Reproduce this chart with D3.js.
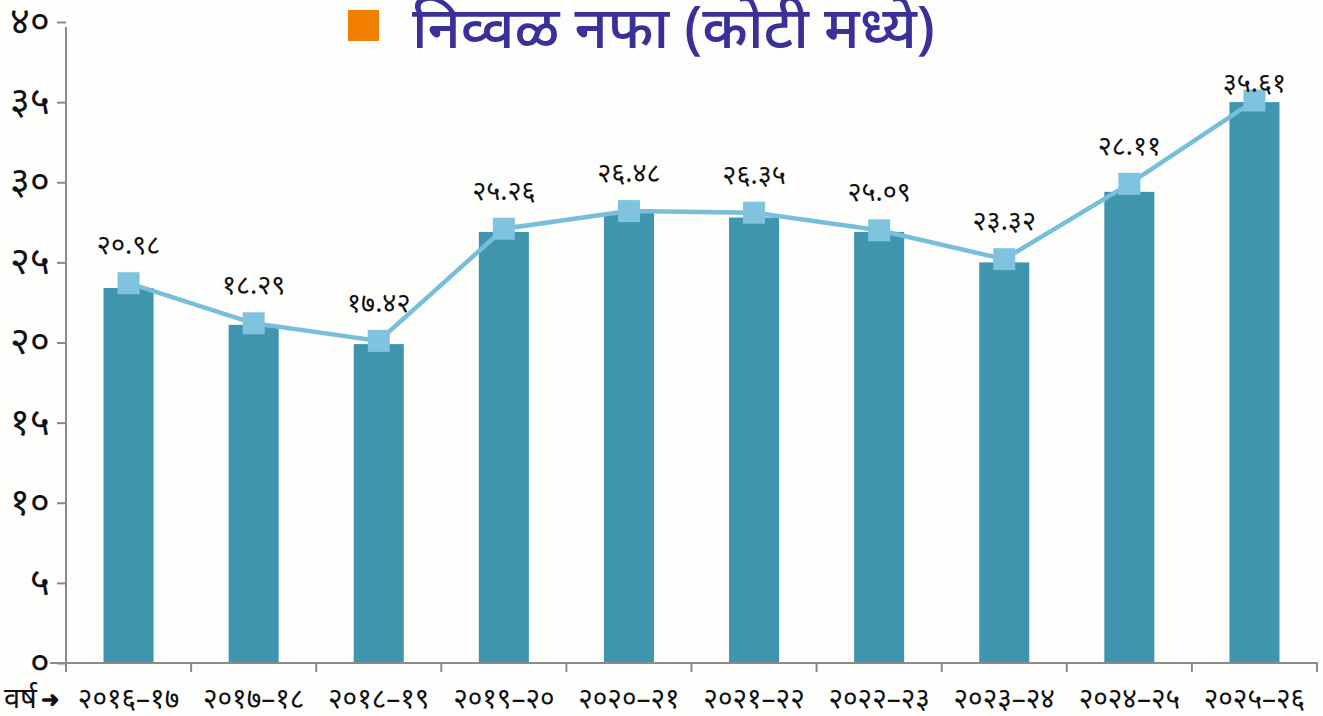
<!DOCTYPE html>
<html>
<head>
<meta charset="utf-8">
<script src="https://cdn.jsdelivr.net/npm/d3@7"></script>
<style>
  body { margin: 0; background: #fdfdfc; }
  svg { display: block; font-family: "Noto Sans", "Lato", sans-serif; }
</style>
</head>
<body>
<svg id="chart" width="1323" height="716"></svg>
<script>
// values
const years = ["2016-17", "2017-18", "2018-19", "2019-20", "2020-21",
               "2021-22", "2022-23", "2023-24", "2024-25", "2025-26"];
const barValues  = [23.4, 21.1, 19.9, 26.9, 28.1, 27.8, 26.9, 25.0, 29.4, 35.0];
const lineValues = [23.7, 21.2, 20.1, 27.1, 28.2, 28.1, 27.0, 25.2, 29.9, 35.1];
const labelValues = [20.98, 18.29, 17.42, 25.26, 26.48, 26.35, 25.09, 23.32, 28.11, 35.61];
const yTicks = [0, 5, 10, 15, 20, 25, 30, 35, 40];
const title = "निव्वळ नफा (कोटी मध्ये)";

// convert western digits to Devanagari
const deva = s => String(s).replace(/[0-9]/g, d => "०१२३४५६७८९"[d]);

const svg = d3.select("#chart");

const x = d3.scaleBand()
    .domain(years)
    .range([66, 1317])
    .paddingInner(0.6)
    .paddingOuter(0.3);

const y = d3.scaleLinear()
    .domain([0, 40])
    .range([663, 22]);

// bars
svg.append("g")
  .selectAll("rect")
  .data(barValues)
  .join("rect")
    .attr("x", (d, i) => x(years[i]))
    .attr("y", d => y(d))
    .attr("width", x.bandwidth())
    .attr("height", d => y(0) - y(d))
    .attr("fill", "#3f95ae");

// y axis
const yAxis = svg.append("g")
    .attr("transform", "translate(66,0)")
    .call(d3.axisLeft(y).tickValues(yTicks).tickSize(9).tickFormat(deva));
yAxis.select(".domain").attr("stroke", "#8a8a8a").attr("stroke-width", 2)
    .attr("d", `M-9,${y(0)}H0V27`);
yAxis.selectAll(".tick line").attr("stroke", "#8a8a8a").attr("stroke-width", 2);
yAxis.selectAll(".tick text")
    .attr("x", -16)
    .attr("dy", "0.3em")
    .attr("fill", "#111")
    .style("font-size", "38px");

// x axis: ticks between bands
const xAxis = svg.append("g").attr("transform", `translate(0,${y(0)})`);
xAxis.append("line")
    .attr("x1", 50).attr("x2", 1318)
    .attr("stroke", "#8a8a8a").attr("stroke-width", 2);
xAxis.selectAll(".xt")
  .data(d3.range(years.length + 1))
  .join("line")
    .attr("class", "xt")
    .attr("x1", i => 66 + i * (1251 / years.length))
    .attr("x2", i => 66 + i * (1251 / years.length))
    .attr("y1", 0).attr("y2", 9)
    .attr("stroke", "#8a8a8a").attr("stroke-width", 2);
xAxis.selectAll(".xl")
  .data(years)
  .join("text")
    .attr("class", "xl")
    .attr("x", d => x(d) + x.bandwidth() / 2)
    .attr("y", 45)
    .attr("text-anchor", "middle")
    .attr("fill", "#111")
    .style("font-size", "28px")
    .text(d => deva(d.replace("-", "–")));

svg.append("text")
    .attr("x", 4).attr("y", 708)
    .attr("fill", "#111")
    .style("font-size", "29px")
    .text("वर्ष");
svg.append("text")
    .attr("x", 41).attr("y", 707)
    .attr("fill", "#111")
    .style("font-size", "22px")
    .style("font-weight", "bold")
    .text("➜");

// line with square markers
const cx = i => x(years[i]) + x.bandwidth() / 2;
const line = d3.line()
    .x((d, i) => cx(i))
    .y(d => y(d));

svg.append("path")
    .datum(lineValues)
    .attr("fill", "none")
    .attr("stroke", "#78bedb")
    .attr("stroke-width", 4.5)
    .attr("d", line);

svg.append("g")
  .selectAll("rect")
  .data(lineValues)
  .join("rect")
    .attr("x", (d, i) => cx(i) - 11)
    .attr("y", d => y(d) - 11)
    .attr("width", 22)
    .attr("height", 22)
    .attr("fill", "#80c3de");

// value labels
svg.append("g")
  .selectAll("text")
  .data(labelValues)
  .join("text")
    .attr("x", (d, i) => cx(i))
    .attr("y", (d, i) => Math.max(y(lineValues[i]) - 29, 92))
    .attr("text-anchor", "middle")
    .attr("fill", "#111")
    .style("font-size", "27px")
    .text(d => deva(d.toFixed(2)));

// title with orange key
svg.append("rect")
    .attr("x", 348).attr("y", 10)
    .attr("width", 31).attr("height", 31)
    .attr("fill", "#f28000");
svg.append("text")
    .attr("x", 412).attr("y", 48)
    .attr("fill", "#3b2f98")
    .style("font-size", "58px")
    .style("font-weight", "500")
    .text(title);
</script>
</body>
</html>
